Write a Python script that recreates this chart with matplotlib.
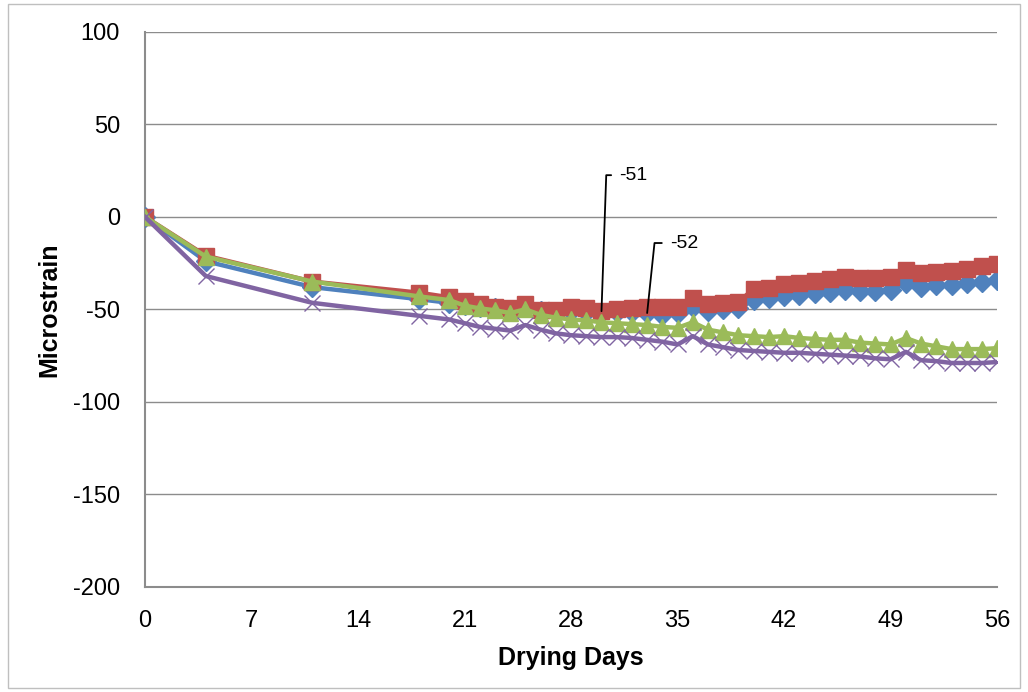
import numpy as np
import matplotlib.pyplot as plt
from matplotlib.patches import Rectangle

plt.rcParams['font.family'] = ['Liberation Sans', 'DejaVu Sans']
plt.rcParams['axes.unicode_minus'] = False

# drying days (daily readings from day 20 on)
days = [0, 4, 11, 18] + list(range(20, 57))

strain_blue = [0, -24, -38, -44.5,
               -46.5, -47.5, -48.5, -49.5, -50.5, -49, -51, -51.5, -51, -51.5,
               -52, -51.5, -51.5, -52, -53, -52, -49, -51, -50, -49.5,
               -45, -44, -43, -42, -41, -40.5, -39.5, -40, -40, -39.5,
               -36, -38, -37, -37, -36, -35, -34]
strain_red = [0, -21, -35, -41,
              -43.5, -45.5, -47, -48.5, -49.5, -47, -50.5, -50.5, -49, -49.5,
              -51, -50, -49.5, -48.5, -49, -48.5, -44, -47, -46.5, -46,
              -39, -38.5, -36.5, -36, -34.5, -33.5, -32.5, -33, -33, -32.5,
              -29, -30.5, -30, -29.5, -28, -26.5, -25.5]
strain_green = [0, -21.5, -35, -43,
                -45, -48, -49.5, -50.5, -52, -50, -53, -54.5, -55.5, -56,
                -57, -57.5, -58, -58.5, -59.5, -60, -57, -61, -62.5, -64,
                -64.5, -65, -64.5, -65.5, -66, -66.5, -66.5, -68, -68.5, -69,
                -65.5, -68.5, -70, -71.5, -71.5, -71.5, -71]
strain_purple = [0, -32, -46.5, -53.5,
                 -55.5, -57.5, -59.5, -60.5, -61.5, -58.5, -61, -63, -64, -64.5,
                 -65, -65, -65.5, -66.5, -67.5, -69, -64.5, -69, -70.5, -72,
                 -72.5, -73, -73.5, -73.5, -74, -74.5, -75, -75.5, -76.5, -77,
                 -73, -77.5, -78, -79, -79, -79, -78.5]

xticks = np.arange(0, 57, 7)
yticks = np.arange(-200, 101, 50)

fig = plt.figure(figsize=(10.28, 6.92), dpi=100)
ax = fig.add_axes([0.141, 0.152, 0.829, 0.802])

# outer chart frame
fig.patches.append(Rectangle((0.008, 0.006), 0.984, 0.988, transform=fig.transFigure,
                             fill=False, edgecolor='#BFBFBF', linewidth=1.0))

lw = 3.2
ax.plot(days, strain_blue, color='#4F81BD', lw=lw, marker='D', ms=10,
        mfc='#4F81BD', mec='#4F81BD', zorder=3)
ax.plot(days, strain_red, color='#C0504D', lw=lw, marker='s', ms=11,
        mfc='#C0504D', mec='#C0504D', zorder=4)
ax.plot(days, strain_green, color='#9BBB59', lw=lw, marker='^', ms=12,
        mfc='#9BBB59', mec='#9BBB59', zorder=5)
ax.plot(days, strain_purple, color='#8064A2', lw=lw, marker='x', ms=11,
        mew=1.0, mec='#8064A2', zorder=6)

# value callouts
i_red = days.index(30)
i_blue = days.index(33)
ax.annotate(f"{strain_red[i_red]:g}", xy=(30, strain_red[i_red]),
            xytext=(18, 136), textcoords='offset pixels', fontsize=14,
            ha='left', va='center',
            arrowprops=dict(arrowstyle='-', color='black', lw=1.3, shrinkA=4, shrinkB=0,
                            connectionstyle='angle,angleA=0,angleB=88,rad=0'),
            zorder=8)
ax.annotate(f"{strain_blue[i_blue]:g}", xy=(33, strain_blue[i_blue]),
            xytext=(23, 70), textcoords='offset pixels', fontsize=14,
            ha='left', va='center',
            arrowprops=dict(arrowstyle='-', color='black', lw=1.3, shrinkA=4, shrinkB=0,
                            connectionstyle='angle,angleA=0,angleB=84,rad=0'),
            zorder=8)

ax.set_xlim(0, 56)
ax.set_ylim(-200, 100)
ax.set_xticks(xticks)
ax.set_yticks(yticks)
ax.tick_params(axis='both', length=0, labelsize=17)
ax.tick_params(axis='y', pad=18)
ax.tick_params(axis='x', pad=17)
ax.yaxis.grid(True, color='#8C8C8C', lw=1.0)
ax.set_axisbelow(True)

for side in ['top', 'right']:
    ax.spines[side].set_visible(False)
for side in ['left', 'bottom']:
    ax.spines[side].set_color('#8C8C8C')
    ax.spines[side].set_linewidth(1.5)

ax.set_xlabel('Drying Days', fontsize=18, fontweight='bold', labelpad=10)
ax.set_ylabel('Microstrain', fontsize=18, fontweight='bold', labelpad=8)

fig.savefig('out.png', dpi=100)
